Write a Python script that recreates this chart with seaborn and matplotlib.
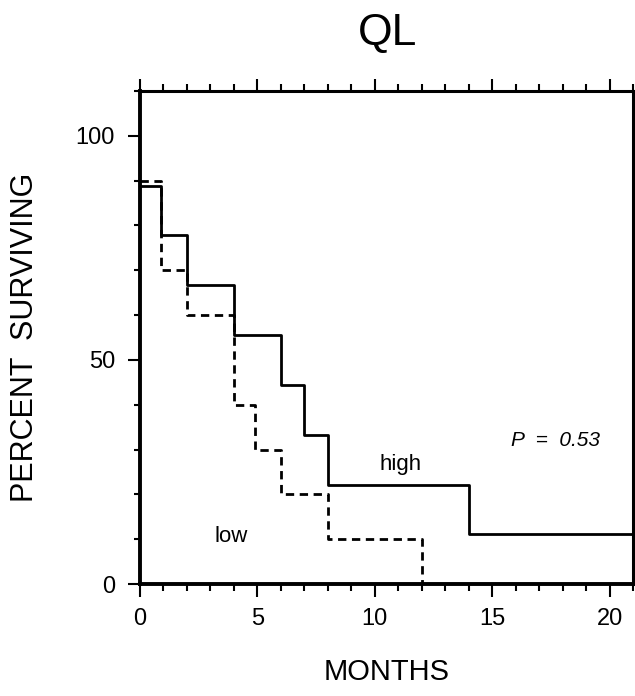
import matplotlib
matplotlib.use("Agg")
import matplotlib.pyplot as plt
import seaborn as sns
import pandas as pd
import numpy as np
from matplotlib.ticker import MultipleLocator

# Data (step change times in months and survival percentage after each step)
high_times = [0, 0.9, 2, 4, 6, 7, 8, 14, 21]
high_surv = [88.9, 77.8, 66.7, 55.6, 44.4, 33.3, 22.2, 11.1, 11.1]
low_times = [0, 0.9, 2, 4, 4.9, 6, 8, 12]
low_surv = [90, 70, 60, 40, 30, 20, 10, 0]
groups = ["high", "low"]

sns.set_theme(style="white")
plt.rcParams['font.family'] = ['Liberation Sans', 'DejaVu Sans']
plt.rcParams['text.color'] = 'black'
plt.rcParams['axes.labelcolor'] = 'black'
plt.rcParams['xtick.color'] = 'black'
plt.rcParams['ytick.color'] = 'black'

df = pd.concat([
    pd.DataFrame({"months": high_times, "surv": high_surv, "group": "high"}),
    pd.DataFrame({"months": low_times, "surv": low_surv, "group": "low"}),
], ignore_index=True)

fig = plt.figure(figsize=(6.35, 6.96), dpi=100)
ax = fig.add_axes([0.2205, 0.1609, 0.7764, 0.7083])

sns.lineplot(data=df, x="months", y="surv", style="group", hue="group",
             palette={"high": "black", "low": "black"},
             dashes={"high": "", "low": (3, 2)},
             drawstyle="steps-post", estimator=None, linewidth=2.0,
             legend=False, ax=ax)

ax.set_xlim(0, 21)
ax.set_ylim(0, 110)
ax.xaxis.set_major_locator(MultipleLocator(5))
ax.xaxis.set_minor_locator(MultipleLocator(1))
ax.yaxis.set_major_locator(MultipleLocator(50))
ax.yaxis.set_minor_locator(MultipleLocator(10))
ax.tick_params(axis="x", which="both", direction="out", top=True, bottom=True,
               color="black", labelcolor="black", width=1.5, labelsize=17, pad=8)
ax.tick_params(axis="x", which="major", length=9)
ax.tick_params(axis="x", which="minor", length=5)
ax.tick_params(axis="y", which="both", direction="out", left=True, right=False,
               color="black", labelcolor="black", width=1.5, labelsize=17, pad=9)
ax.tick_params(axis="y", which="major", length=9)
ax.tick_params(axis="y", which="minor", length=4)

for side in ["left", "bottom"]:
    ax.spines[side].set_linewidth(2.8)
    ax.spines[side].set_color("black")
for side in ["top", "right"]:
    ax.spines[side].set_linewidth(2.2)
    ax.spines[side].set_color("black")

ax.set_xlabel("MONTHS", fontsize=21, color="black", va="center")
ax.xaxis.set_label_coords(0.5, -0.178)
ax.set_ylabel("PERCENT  SURVIVING", fontsize=22, color="black", va="center")
ax.yaxis.set_label_coords(-0.233, 0.5)
fig.text(0.61, 1 - 45 / 696, "QL", fontsize=32, ha="center", va="baseline",
         color="black")

ax.text(11.1, 26.6, "high", fontsize=16, ha="center", va="center")
ax.text(3.9, 10.5, "low", fontsize=16, ha="center", va="center")
ax.text(17.7, 32.1, "P  =  0.53", fontsize=15, ha="center", va="center",
        style="italic")

fig.savefig("out.png", dpi=100)
